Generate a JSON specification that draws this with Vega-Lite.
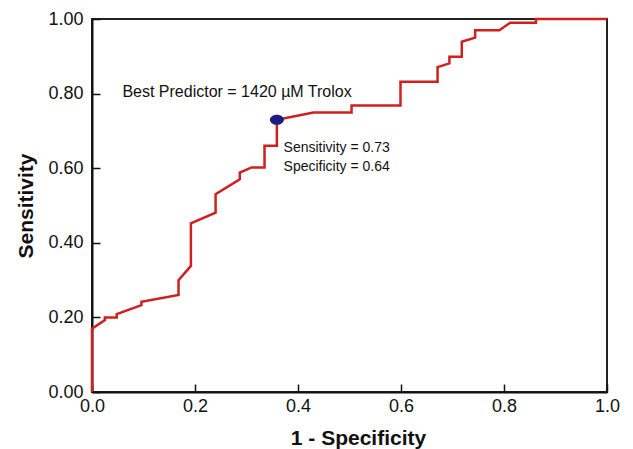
{
  "$schema": "https://vega.github.io/schema/vega-lite/v6.json",
  "width": 515,
  "height": 373,
  "autosize": {"type": "none"},
  "padding": {"left": 92, "top": 19, "right": 26, "bottom": 57},
  "background": "white",
  "config": {
    "view": {"stroke": "#222", "strokeWidth": 2},
    "font": "Liberation Sans",
    "axis": {
      "grid": false,
      "domainColor": "#111",
      "domainWidth": 2,
      "tickColor": "#111",
      "tickWidth": 1.5,
      "tickSize": -8,
      "labelFont": "Liberation Sans",
      "labelFontSize": 18,
      "labelColor": "#111",
      "titleFont": "Liberation Sans",
      "titleFontSize": 21,
      "titleFontWeight": "bold",
      "titleColor": "#111"
    }
  },
  "data": {
    "values": [
      {"o": 1, "fpr": 0, "tpr": 0},
      {"o": 2, "fpr": 0, "tpr": 0.17},
      {"o": 3, "fpr": 0.025, "tpr": 0.193},
      {"o": 4, "fpr": 0.025, "tpr": 0.2},
      {"o": 5, "fpr": 0.048, "tpr": 0.2},
      {"o": 6, "fpr": 0.048, "tpr": 0.209},
      {"o": 7, "fpr": 0.096, "tpr": 0.233},
      {"o": 8, "fpr": 0.096, "tpr": 0.242},
      {"o": 9, "fpr": 0.168, "tpr": 0.26},
      {"o": 10, "fpr": 0.168, "tpr": 0.3},
      {"o": 11, "fpr": 0.192, "tpr": 0.338},
      {"o": 12, "fpr": 0.192, "tpr": 0.452},
      {"o": 13, "fpr": 0.24, "tpr": 0.481},
      {"o": 14, "fpr": 0.24, "tpr": 0.53},
      {"o": 15, "fpr": 0.287, "tpr": 0.57},
      {"o": 16, "fpr": 0.287, "tpr": 0.588},
      {"o": 17, "fpr": 0.31, "tpr": 0.602},
      {"o": 18, "fpr": 0.335, "tpr": 0.602},
      {"o": 19, "fpr": 0.335, "tpr": 0.66},
      {"o": 20, "fpr": 0.359, "tpr": 0.66},
      {"o": 21, "fpr": 0.359, "tpr": 0.73},
      {"o": 22, "fpr": 0.43, "tpr": 0.749},
      {"o": 23, "fpr": 0.504, "tpr": 0.749},
      {"o": 24, "fpr": 0.504, "tpr": 0.768},
      {"o": 25, "fpr": 0.599, "tpr": 0.768},
      {"o": 26, "fpr": 0.599, "tpr": 0.832},
      {"o": 27, "fpr": 0.671, "tpr": 0.832},
      {"o": 28, "fpr": 0.671, "tpr": 0.871},
      {"o": 29, "fpr": 0.694, "tpr": 0.881},
      {"o": 30, "fpr": 0.694, "tpr": 0.899},
      {"o": 31, "fpr": 0.718, "tpr": 0.899},
      {"o": 32, "fpr": 0.718, "tpr": 0.939},
      {"o": 33, "fpr": 0.744, "tpr": 0.95},
      {"o": 34, "fpr": 0.744, "tpr": 0.97},
      {"o": 35, "fpr": 0.791, "tpr": 0.97},
      {"o": 36, "fpr": 0.812, "tpr": 0.99},
      {"o": 37, "fpr": 0.862, "tpr": 0.99},
      {"o": 38, "fpr": 0.862, "tpr": 1.0},
      {"o": 39, "fpr": 1.0, "tpr": 1.0}
    ]
  },
  "layer": [
    {
      "mark": {"type": "line", "color": "#d0201e", "strokeWidth": 2.5, "interpolate": "linear", "clip": false},
      "encoding": {
        "x": {
          "field": "fpr", "type": "quantitative",
          "scale": {"domain": [0, 1], "nice": false, "zero": false},
          "axis": {"title": "1 - Specificity", "values": [0, 0.2, 0.4, 0.6, 0.8, 1.0], "format": ".1f", "labelPadding": 13, "titlePadding": 12, "titleX": 266, "labelFlush": false}
        },
        "y": {
          "field": "tpr", "type": "quantitative",
          "scale": {"domain": [0, 1], "nice": false, "zero": false},
          "axis": {"title": "Sensitivity", "values": [0, 0.2, 0.4, 0.6, 0.8, 1.0], "format": ".2f", "labelPadding": 17, "titlePadding": 11, "labelFlush": false}
        },
        "order": {"field": "o", "type": "quantitative"}
      }
    },
    {
      "data": {"values": [{"fpr": 0.359, "tpr": 0.73}]},
      "mark": {"type": "point", "filled": true, "color": "#1c1c84", "opacity": 1, "size": 196, "shape": "M -1 0 A 1 0.72 0 1 0 1 0 A 1 0.72 0 1 0 -1 0 Z"},
      "encoding": {
        "x": {"field": "fpr", "type": "quantitative"},
        "y": {"field": "tpr", "type": "quantitative"}
      }
    },
    {
      "data": {"values": [
        {"fpr": 0.059, "tpr": 0.804, "label": "Best Predictor = 1420 µM Trolox", "sz": 16},
        {"fpr": 0.372, "tpr": 0.654, "label": "Sensitivity = 0.73", "sz": 14},
        {"fpr": 0.372, "tpr": 0.603, "label": "Specificity = 0.64", "sz": 14}
      ]},
      "mark": {"type": "text", "align": "left", "baseline": "middle", "color": "#111", "font": "Liberation Sans"},
      "encoding": {
        "x": {"field": "fpr", "type": "quantitative"},
        "y": {"field": "tpr", "type": "quantitative"},
        "text": {"field": "label"},
        "size": {"field": "sz", "type": "quantitative", "scale": null, "legend": null}
      }
    }
  ]
}
